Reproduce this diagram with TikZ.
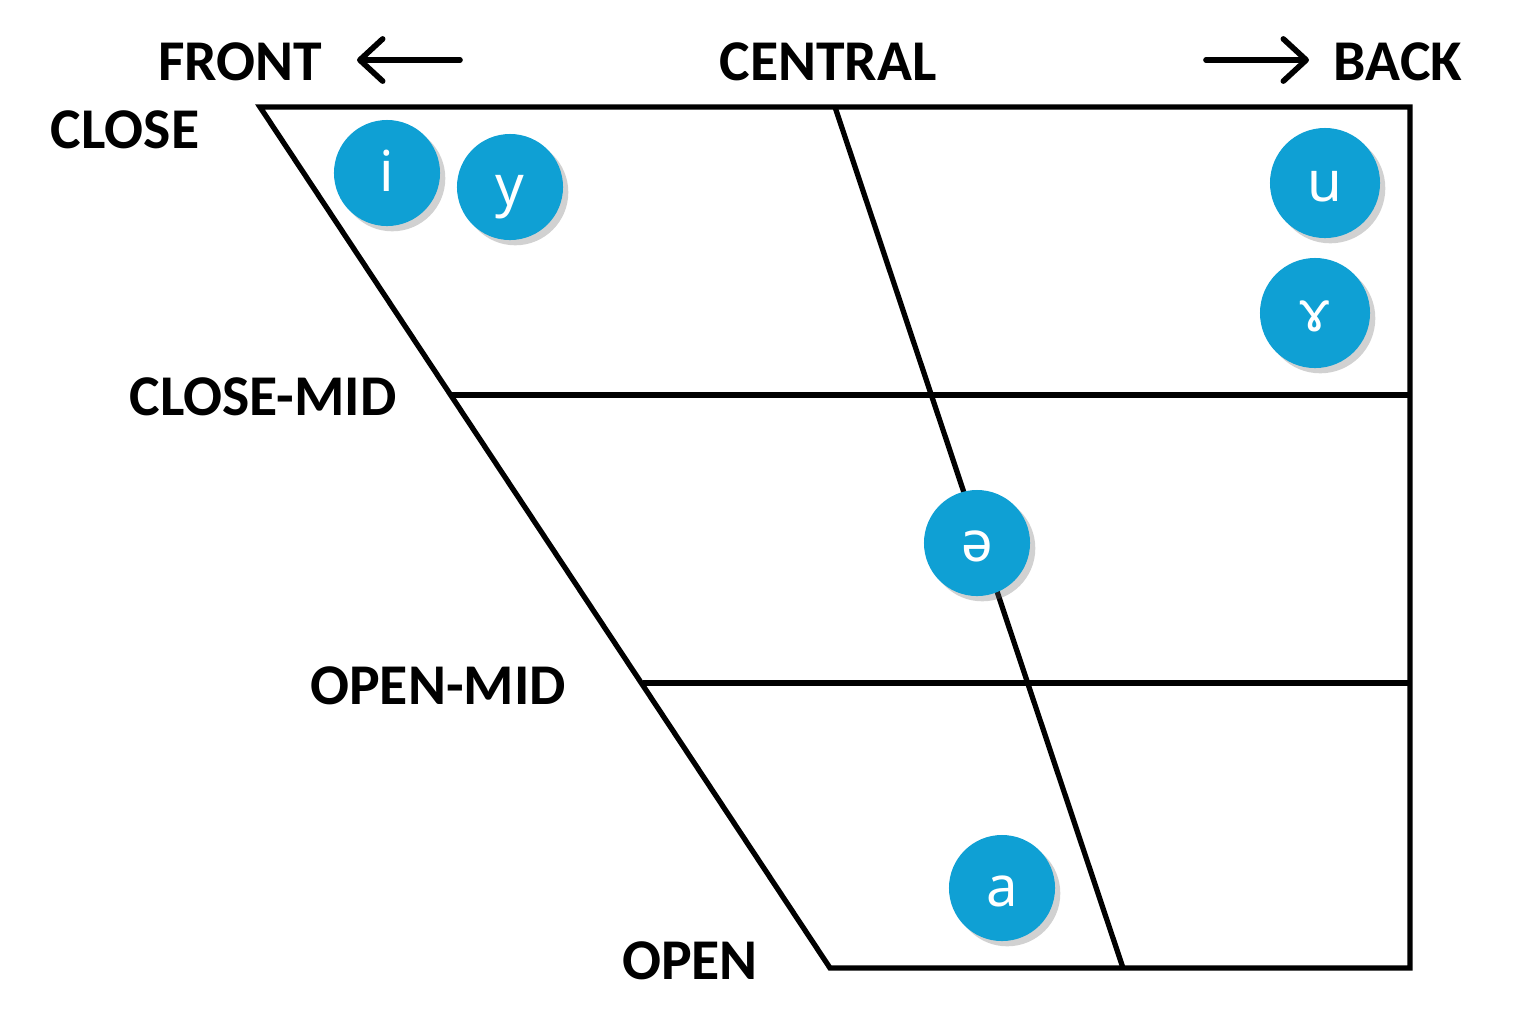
\documentclass[tikz,border=0pt]{standalone}
\usepackage{fontspec}
\setmainfont{Carlito}
\newfontfamily\vowelfont{Noto Sans}
\usetikzlibrary{arrows.meta,shadows}
\definecolor{vblue}{HTML}{0FA0D4}
\begin{document}
\begin{tikzpicture}[x=0.01cm,y=-0.01cm,
  chart/.style={line width=1.5pt, line join=miter},
  hdr/.style={font=\fontsize{16.4}{19}\selectfont\bfseries, inner sep=0pt},
  vowel/.style={circle, fill=vblue, minimum size=1.06cm, inner sep=0pt,
    text=white, font=\vowelfont\fontsize{16}{18}\selectfont,
    text height=10.5pt, text depth=0pt,
    drop shadow={shadow xshift=1.5pt, shadow yshift=-1.5pt, opacity=0.3, fill=black!60}},
  dirarrow/.style={line width=1.6pt, line cap=round,
    -{Straight Barb[length=6.5pt,width=12pt,line width=1.6pt,round]}}]
\useasboundingbox (0,0) rectangle (1524,1029);
% chart corners
\coordinate (TL) at (260,107);
\coordinate (TR) at (1410,107);
\coordinate (BR) at (1410,968);
\coordinate (BL) at (830,968);
\coordinate (CMl) at (452,395);
\coordinate (CMr) at (1410,395);
\coordinate (OMl) at (643,683);
\coordinate (OMr) at (1410,683);
\coordinate (Ct) at (835,107);
\coordinate (Cb) at (1123,968);
\draw[chart] (TL) -- (TR) -- (BR) -- (BL) -- cycle;
\draw[chart] (CMl) -- (CMr);
\draw[chart] (OMl) -- (OMr);
\draw[chart] (Ct) -- (Cb);
% labels
\node[hdr] (front) at (240,62) {FRONT};
\node[hdr] (central) at (828,62) {CENTRAL};
\node[hdr] (back) at (1398,62) {BACK};
\node[hdr] (close) at (125,130) {CLOSE};
\node[hdr] (closemid) at (263,397) {CLOSE-MID};
\node[hdr] (openmid) at (438,686) {OPEN-MID};
\node[hdr] (open) at (690,961) {OPEN};
% arrows
\coordinate (fa1) at (460,60);
\coordinate (fa2) at (357,60);
\coordinate (ba1) at (1206,60);
\coordinate (ba2) at (1309,60);
\draw[dirarrow] (fa1) -- (fa2);
\draw[dirarrow] (ba1) -- (ba2);
% vowels
\node[vowel] (vi) at (387,173) {i};
\node[vowel] (vy) at (510,187) {y};
\node[vowel, minimum size=1.1cm] (vu) at (1325,183) {u};
\node[vowel, minimum size=1.1cm] (vgamma) at (1315,313) {ɤ};
\node[vowel] (vschwa) at (977,543) {ə};
\node[vowel] (va) at (1002,888) {a};
\end{tikzpicture}
\end{document}
